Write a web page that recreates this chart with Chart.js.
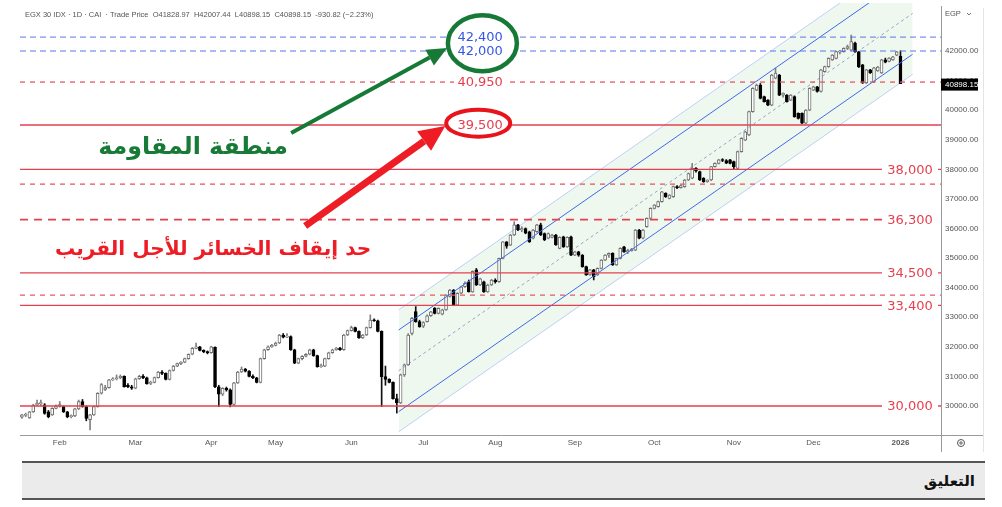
<!DOCTYPE html>
<html>
<head>
<meta charset="utf-8">
<script src="https://cdn.jsdelivr.net/npm/chart.js@4.4.0/dist/chart.umd.min.js"></script>
<style>
  body { margin: 0; background: #fff; width: 1002px; height: 507px; overflow: hidden; position: relative; }
  #wrap { position: absolute; left: 0; top: 0; width: 1002px; height: 456px; }
  #foot { position: absolute; left: 22px; top: 461px; width: 963px; height: 35px;
          background: #ebebeb; border-top: 2px solid #555; border-bottom: 2px solid #555;
          display: flex; align-items: center; justify-content: flex-end; }
  #foot span { margin-right: 10px; direction: rtl;
               font: bold 15px "DejaVu Sans", sans-serif; color: #111; }
</style>
</head>
<body>
<div id="wrap"><canvas id="myChart" width="1002" height="456"></canvas></div>
<div id="foot"><span>التعليق</span></div>
<script>
// month ticks (candle index where each month starts)
const monthTicks = [10, 30, 50, 67, 87, 106, 125, 146, 167, 188, 209, 232];
const monthNames = ['Feb', 'Mar', 'Apr', 'May', 'Jun', 'Jul', 'Aug', 'Sep', 'Oct', 'Nov', 'Dec', '2026'];
const yTicks = [30000, 31000, 32000, 33000, 34000, 35000, 36000, 37000, 38000, 39000, 40000, 41000, 42000];

// daily candles
const opens = [
  29620,29680,29600,29800,30040,30080,30040,29800,29700,29920,
  30000,29980,29800,29640,29660,29900,30150,29980,29540,29700,
  29980,30430,30560,30620,30880,30920,30960,31000,30700,30650,
  30600,30920,31000,30950,30760,30800,30960,31150,31100,30900,
  31200,31350,31430,31480,31600,31750,31950,32000,31880,31840,
  31800,31980,30650,30400,30600,30550,30050,30780,31150,31250,
  31180,31000,30950,30800,31600,31900,32000,32050,32130,32400,
  32330,32350,31900,31450,31600,31680,31750,31900,31700,31330,
  31350,31600,31800,31900,31960,31900,32400,32550,32650,32520,
  32300,32400,32650,32900,32880,32520,30990,30900,30800,30250,
  30100,31050,31390,32450,33190,32850,32700,32850,33050,33300,
  33130,33100,33250,33700,33920,33410,33810,34030,34200,33860,
  34600,34090,34200,33860,34090,34260,34200,34990,35550,35440,
  35780,36120,35950,36000,35890,35670,35890,36120,35830,35670,
  35700,35780,35330,35720,35380,35720,35100,35210,35100,34710,
  34430,34600,34430,34650,34930,35100,35160,34770,34990,35380,
  35210,35250,35270,35950,35670,36060,36340,36680,36740,36910,
  37190,37020,37075,37420,37380,37410,37640,37700,38030,37920,
  37700,37580,37640,38090,38200,38320,38300,38320,38260,38030,
  38600,38990,39160,39950,40680,40850,40460,40340,40170,41080,
  41190,40510,40510,40340,40460,39890,39890,39560,40000,40680,
  40790,40630,41300,41470,41700,41750,41960,41980,42090,42030,
  42270,41970,41530,40920,41360,40950,41330,41260,41700,41650,
  41700,41860,41828.97
];
const highs = [
  29720,29760,29820,30060,30200,30200,30080,29850,29940,30040,
  30150,30000,29820,29700,29920,30200,30220,30000,29720,30000,
  30450,30760,30700,30900,30960,31050,31050,31020,30760,30700,
  30940,31040,31060,30980,30840,30980,31170,31200,31120,31220,
  31370,31450,31500,31620,31760,31980,32130,32020,31900,31860,
  32020,32000,30700,30620,30640,30580,30800,31170,31320,31270,
  31200,31050,30970,31620,31920,32030,32080,32160,32420,32450,
  32450,32370,31920,31620,31700,31770,31920,31920,31720,31420,
  31620,31820,31920,31980,31980,32420,32570,32700,32670,32540,
  32420,32670,33080,32950,32900,32540,31350,30920,30820,30400,
  31080,31420,32450,33000,33360,32900,32850,33080,33200,33330,
  33320,33270,33770,33940,33940,33830,34050,34200,34260,34570,
  34650,34320,34220,34120,34280,34300,35000,35560,35560,35800,
  36230,36140,36060,36020,35910,35970,36140,36180,35850,35850,
  35800,35800,35720,35740,35720,35740,35230,35230,35120,34730,
  34620,34620,34670,34950,35120,35180,35180,35000,35350,35400,
  35300,35330,35970,35970,35970,36360,36700,36810,36930,37260,
  37210,37150,37440,37450,37480,37660,37880,38200,38060,37940,
  37720,37650,38100,38220,38340,38360,38330,38340,38280,38620,
  39070,39290,39970,40760,40880,40900,40480,40360,41210,41420,
  41210,40590,40530,40530,40480,39910,39910,40020,40760,40810,
  40810,41380,41490,41770,41880,42000,42020,42110,42200,42540,
  42300,41990,41550,41380,41380,41450,41480,41720,41760,41780,
  41820,41990,42007.44
];
const lows = [
  29580,29640,29580,29780,30000,30020,29720,29600,29680,29900,
  29960,29780,29600,29600,29640,29880,29960,29500,29190,29680,
  29960,30400,30520,30600,30860,30880,30920,30640,30620,30560,
  30580,30900,30920,30740,30720,30780,30940,31060,30880,30880,
  31180,31330,31400,31460,31580,31730,31930,31860,31800,31760,
  31780,30620,29980,30350,30500,29970,30030,30760,31130,31150,
  30980,30920,30780,30780,31580,31880,31980,32030,32110,32300,
  32310,31880,31430,31430,31560,31660,31730,31680,31310,31300,
  31330,31580,31780,31880,31880,31880,32380,32530,32500,32280,
  32280,32380,32630,32860,32500,29980,30700,30780,30230,29760,
  30080,31000,31370,32400,32830,32660,32650,32830,33030,33110,
  33110,33080,33230,33680,33390,33390,33790,34010,33850,33840,
  34070,34070,33840,33840,34070,34150,34180,34970,35330,35420,
  35760,35930,35890,35820,35530,35650,35870,35760,35590,35650,
  35680,35430,35310,35360,35360,35080,35080,35060,34690,34410,
  34410,34260,34410,34630,34910,35020,34750,34750,34970,35190,
  35150,35230,35250,35650,35650,36040,36320,36660,36720,36890,
  37050,37000,37050,37350,37360,37390,37620,37680,37900,37620,
  37560,37560,37620,38070,38180,38260,38190,38180,38000,38010,
  38580,38970,39140,39930,40660,40380,40270,40150,40150,41060,
  40490,40440,40270,40320,39760,39700,39540,39540,39980,40660,
  40610,40610,41280,41450,41680,41730,41900,41960,42050,42010,
  41950,41440,40900,40900,41240,40930,41310,41240,41600,41630,
  41680,41840,40898.15
];
const closes = [
  29700,29720,29800,30030,30090,30110,29750,29640,29920,30000,
  30050,29800,29640,29660,29900,30150,29980,29580,29700,29980,
  30430,30720,30620,30880,30900,30950,31000,30650,30650,30600,
  30920,31000,30950,30750,30800,30960,31150,31100,30900,31200,
  31350,31430,31480,31600,31750,31950,32000,31880,31840,31800,
  32000,30650,30400,30600,30550,30050,30780,31150,31250,31180,
  31000,30950,30800,31600,31900,32000,32050,32130,32400,32330,
  32350,31900,31450,31600,31680,31750,31900,31700,31330,31350,
  31600,31800,31900,31960,31900,32400,32550,32650,32520,32300,
  32400,32650,32900,32880,32520,30990,30900,30800,30250,30100,
  31050,31390,32400,32960,32850,32680,32820,33050,33180,33130,
  33300,33250,33750,33920,33410,33810,34030,34150,33860,34550,
  34090,34300,33860,34090,34260,34200,34990,35550,35400,35780,
  36120,35950,36000,35840,35550,35950,36120,35780,35610,35830,
  35780,35450,35700,35380,35700,35100,35210,35100,34710,34430,
  34600,34370,34650,34930,35100,35160,34770,34990,35330,35210,
  35250,35300,35950,35670,35950,36340,36680,36790,36910,37240,
  37075,37130,37420,37380,37450,37640,37860,38030,37950,37640,
  37580,37640,38090,38200,38320,38300,38210,38200,38090,38600,
  39050,39270,39950,40740,40850,40400,40290,40170,41190,41250,
  40510,40570,40290,40510,39780,39720,39560,40000,40740,40790,
  40630,41360,41470,41750,41860,41980,42000,42090,42150,42320,
  41970,41460,40920,41360,41260,41430,41460,41700,41620,41760,
  41800,41970,40898.15
];
const lastPrice = 40898.15;

// horizontal levels
const solidLevels = [39500, 38000, 34500, 33400, 30000];
const dashedLevels = [40950, 37500, 33750];
const heavyDashedLevels = [36300];
const blueLevels = [42470, 42000];
const sideLabelLevels = [38000, 36300, 34500, 33400, 30000];
const sideLabelTexts = ['38,000', '36,300', '34,500', '33,400', '30,000'];

// rising channel, end points [start, end]
const channelX = [99.5, 235.2];
const channelOuterTop = [33250, 45330];
const channelTop = [32570, 44650];
const channelMid = [31190, 43270];
const channelBottom = [29810, 41890];
const channelOuterBottom = [29130, 41210];

const RED = '#e5404f';
const xMin = -0.5, xMax = 242.7;

var ctx = document.getElementById('myChart').getContext('2d');

const idx = closes.map((c, i) => i);
const isUp = idx.map(i => closes[i] >= opens[i]);

function levelLine(v, color, width, dash) {
  return {
    type: 'line', data: [{ x: xMin, y: v }, { x: xMax, y: v }],
    borderColor: color, borderWidth: width, borderDash: dash || [],
    pointRadius: 0, fill: false, order: 1
  };
}
function channelLine(vals, color, dash, fill) {
  return {
    type: 'line', data: [{ x: channelX[0], y: vals[0] }, { x: channelX[1], y: vals[1] }],
    borderColor: color, borderWidth: 1, borderDash: dash || [], pointRadius: 0,
    fill: fill === undefined ? false : fill, backgroundColor: 'rgba(76,175,80,0.09)', order: 2
  };
}

const datasets = [
  channelLine(channelOuterTop, 'rgba(41,98,255,0.28)', [], 4),
  channelLine(channelTop, '#3f6ae8'),
  channelLine(channelMid, 'rgba(90,110,170,0.6)', [3, 3]),
  channelLine(channelBottom, '#3f6ae8'),
  channelLine(channelOuterBottom, 'rgba(41,98,255,0.28)'),
  {
    type: 'bar', data: idx.map(i => ({ x: i, y: [lows[i], highs[i]] })),
    backgroundColor: idx.map(i => isUp[i] ? '#808080' : '#111'),
    barThickness: 1, grouped: false, order: 11
  },
  {
    type: 'bar', data: idx.map(i => ({ x: i, y: [opens[i], closes[i]] })),
    backgroundColor: idx.map(i => isUp[i] ? '#ffffff' : '#000000'),
    borderColor: idx.map(i => isUp[i] ? '#6e6e6e' : '#000000'),
    borderWidth: 1, borderSkipped: false, minBarLength: 1,
    barThickness: 3, grouped: false, order: 10
  }
];
solidLevels.forEach(v => datasets.push(levelLine(v, RED, 1.4)));
dashedLevels.forEach(v => datasets.push(levelLine(v, '#e85866', 1.3, [5, 5])));
heavyDashedLevels.forEach(v => datasets.push(levelLine(v, '#e5404f', 1.6, [8, 6])));
blueLevels.forEach(v => datasets.push(levelLine(v, '#5a76e8', 1, [6, 4])));

function arrow(c, x1, y1, x2, y2, w, hl, hw, color) {
  const a = Math.atan2(y2 - y1, x2 - x1);
  const bx = x2 - hl * Math.cos(a), by = y2 - hl * Math.sin(a);
  c.strokeStyle = color; c.lineWidth = w; c.lineCap = 'butt';
  c.beginPath(); c.moveTo(x1, y1); c.lineTo(bx, by); c.stroke();
  c.fillStyle = color; c.beginPath();
  c.moveTo(x2, y2);
  c.lineTo(bx + hw / 2 * Math.sin(a), by - hw / 2 * Math.cos(a));
  c.lineTo(bx - hw / 2 * Math.sin(a), by + hw / 2 * Math.cos(a));
  c.closePath(); c.fill();
}
function fitText(c, text, cx, cy, targetW, color, base) {
  c.font = 'bold ' + base + 'px "DejaVu Sans"';
  const size = base * targetW / c.measureText(text).width;
  c.font = 'bold ' + size.toFixed(1) + 'px "DejaVu Sans"';
  c.fillStyle = color; c.textAlign = 'center'; c.textBaseline = 'middle';
  c.fillText(text, cx, cy);
}
function ellipse(c, cx, cy, rx, ry, color, w) {
  c.beginPath(); c.ellipse(cx, cy, rx, ry, 0, 0, Math.PI * 2);
  c.fillStyle = '#fff'; c.fill();
  c.strokeStyle = color; c.lineWidth = w; c.stroke();
}
// drop the extra room Chart.js keeps for half tick labels
function noPad(s) { s.paddingTop = 0; s.paddingBottom = 0; s.paddingLeft = 0; s.paddingRight = 0; }

const decor = {
  id: 'decor',
  afterDatasetsDraw(chart) {
    const c = chart.ctx, a = chart.chartArea;
    const px = v => chart.scales.x.getPixelForValue(v);
    const py = v => chart.scales.y.getPixelForValue(v);
    c.save();
    c.textAlign = 'center'; c.textBaseline = 'middle';
    c.font = '13px "DejaVu Sans"';
    // labels at right end of the levels
    sideLabelLevels.forEach((v, k) => {
      const cx = a.right - 31, cy = py(v);
      c.fillStyle = '#fff'; c.fillRect(cx - 28, cy - 8, 56, 16);
      c.fillStyle = RED; c.fillText(sideLabelTexts[k], cx, cy + 1);
    });
    // 40,950 in the middle of its dashed line
    c.fillStyle = '#fff'; c.fillRect(px(121) - 26, py(40950) - 7, 52, 14);
    c.fillStyle = RED; c.fillText('40,950', px(121), py(40950) + 1);

    // resistance zone circle
    ellipse(c, px(121.6), py(42260), 34.5, 28, '#167a36', 4.5);
    c.font = '13px "DejaVu Sans"';
    c.fillStyle = '#3558e0';
    c.fillText('42,400', px(121), py(42470) + 1);
    c.fillText('42,000', px(121), py(42000) + 1);
    // stop-loss circle
    ellipse(c, px(120.5), py(39560), 32, 13.5, '#e8131b', 4);
    c.fillStyle = RED;
    c.fillText('39,500', px(121), py(39500) + 1);

    // arrows
    arrow(c, px(71.1), py(39228), px(112.3), py(42101), 4, 20, 18, '#167a36');
    arrow(c, px(74.8), py(36085), px(111.8), py(39465), 7, 26, 24, '#ee1c25');

    // arabic notes
    fitText(c, 'منطقة المقاومة', px(45.2), py(38721), 190, '#187a37', 26);
    fitText(c, 'حد إيقاف الخسائر للأجل القريب', px(50.5), py(35274), 317, '#ee1c25', 22);
    c.restore();
  },
  afterDraw(chart) {
    const c = chart.ctx, a = chart.chartArea;
    const py = v => chart.scales.y.getPixelForValue(v);
    c.save();
    // axis lines
    c.strokeStyle = '#9a9a9a'; c.lineWidth = 1;
    c.beginPath();
    c.moveTo(a.left, a.bottom + 0.5); c.lineTo(a.right + 42, a.bottom + 0.5);
    c.moveTo(a.right + 0.5, a.top + 3); c.lineTo(a.right + 0.5, a.bottom + 17);
    c.stroke();
    c.strokeStyle = '#e4e4e4';
    c.beginPath(); c.moveTo(a.right + 42.5, a.top + 5); c.lineTo(a.right + 42.5, a.bottom + 17); c.stroke();

    // header
    c.font = '7.5px "Liberation Sans"'; c.fillStyle = '#555';
    c.textAlign = 'left'; c.textBaseline = 'middle';
    c.fillText('EGX 30 IDX · 1D · CAI  · Trade Price  O41828.97  H42007.44  L40898.15  C40898.15  -930.82 (\u22122.23%)', 25, 15);
    c.fillText('EGP', a.right + 4, 14);
    c.strokeStyle = '#777'; c.beginPath();
    c.moveTo(a.right + 26, 13); c.lineTo(a.right + 28, 15); c.lineTo(a.right + 30, 13); c.stroke();

    // last price tag
    const ty = py(lastPrice) + 1;
    c.fillStyle = '#000'; c.fillRect(a.right, ty - 6, 37, 12);
    c.fillStyle = '#fff'; c.font = '8px "Liberation Sans"';
    c.fillText(lastPrice.toFixed(2), a.right + 4, ty);

    // settings icon
    c.strokeStyle = '#555'; c.lineWidth = 1;
    c.beginPath(); c.arc(a.right + 20, a.bottom + 8, 3.5, 0, Math.PI * 2); c.stroke();
    c.beginPath(); c.arc(a.right + 20, a.bottom + 8, 1.2, 0, Math.PI * 2); c.stroke();
    c.restore();
  }
};

var myChart = new Chart(ctx, {
  type: 'bar',
  data: { datasets: datasets },
  plugins: [decor],
  options: {
    responsive: false,
    animation: false,
    layout: { padding: { left: 20, top: 3, right: 0, bottom: 0 } },
    plugins: {
      legend: { display: false },
      tooltip: { enabled: false },
      filler: { drawTime: 'beforeDatasetsDraw' }
    },
    scales: {
      x: {
        type: 'linear', min: xMin, max: xMax, offset: false,
        grid: { display: false, drawTicks: false }, border: { display: false },
        afterBuildTicks: s => { s.ticks = monthTicks.map(v => ({ value: v })); },
        afterFit: s => { s.height = 21; noPad(s); },
        ticks: {
          autoSkip: false, maxRotation: 0, minRotation: 0, padding: 3, color: '#555',
          font: c => ({ family: '"Liberation Sans"', size: 8, weight: c.tick && c.tick.value === 232 ? 'bold' : 'normal' }),
          callback: v => { const k = monthTicks.indexOf(v); return k >= 0 ? monthNames[k] : ''; }
        }
      },
      y: {
        position: 'right', min: 29019, max: 43623,
        grid: { display: false, drawTicks: false }, border: { display: false },
        afterBuildTicks: s => { s.ticks = yTicks.map(v => ({ value: v })); },
        afterFit: s => { s.width = 61; noPad(s); },
        ticks: {
          padding: 4, color: '#555', font: { family: '"Liberation Sans"', size: 8 },
          callback: v => Number(v).toFixed(2)
        }
      }
    }
  }
});
</script>
</body>
</html>
